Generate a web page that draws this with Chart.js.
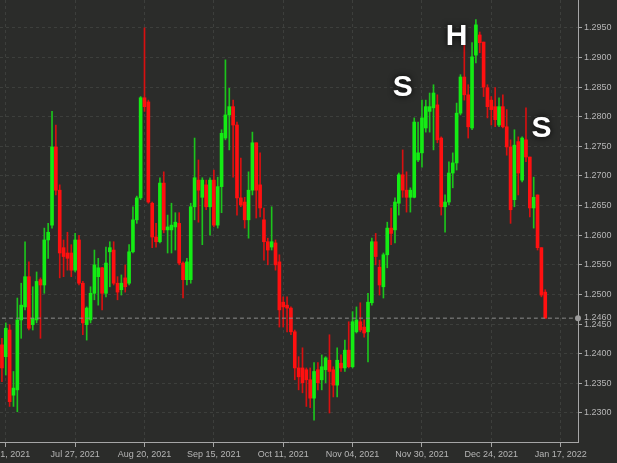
<!DOCTYPE html>
<html>
<head>
<meta charset="utf-8">
<script src="https://cdn.jsdelivr.net/npm/chart.js@4.4.1/dist/chart.umd.min.js"></script>
<style>
  html, body { margin: 0; padding: 0; background: #2b2c2a; }
  #wrap { width: 617px; height: 463px; position: relative; }
</style>
</head>
<body>
<div id="wrap"><canvas id="chart"></canvas></div>
<script>
// GBP/USD daily, Jun 30 2021 - Jan 13 2022
const opens = [
  1.2415, 1.2395, 1.2440, 1.2330, 1.2339, 1.2457, 1.2479, 1.2530, 1.2449, 1.2457,
  1.2525, 1.2516, 1.2592, 1.2617, 1.2749, 1.2676, 1.2579, 1.2570, 1.2570, 1.2541,
  1.2592, 1.2519, 1.2449, 1.2457, 1.2502, 1.2530, 1.2545, 1.2502, 1.2572, 1.2575,
  1.2519, 1.2508, 1.2528, 1.2519, 1.2572, 1.2626, 1.2663, 1.2832, 1.2825, 1.2654,
  1.2597, 1.2589, 1.2688, 1.2609, 1.2609, 1.2614, 1.2620, 1.2553, 1.2525, 1.2525,
  1.2648, 1.2693, 1.2664, 1.2685, 1.2648, 1.2693, 1.2617, 1.2682, 1.2764, 1.2803,
  1.2817, 1.2786, 1.2663, 1.2656, 1.2626, 1.2676, 1.2756, 1.2685, 1.2626, 1.2589,
  1.2580, 1.2587, 1.2555, 1.2487, 1.2482, 1.2477, 1.2437, 1.2376, 1.2376, 1.2373,
  1.2356, 1.2325, 1.2373, 1.2356, 1.2373, 1.2389, 1.2373, 1.2347, 1.2384, 1.2376,
  1.2406, 1.2378, 1.2437, 1.2454, 1.2445, 1.2437, 1.2486, 1.2589, 1.2546, 1.2513,
  1.2567, 1.2612, 1.2609, 1.2654, 1.2702, 1.2676, 1.2664, 1.2664, 1.2727, 1.2739,
  1.2781, 1.2809, 1.2815, 1.2820, 1.2764, 1.2648, 1.2656, 1.2705, 1.2722, 1.2806,
  1.2867, 1.2837, 1.2781, 1.2904, 1.2938, 1.2926, 1.2849, 1.2828, 1.2817, 1.2786,
  1.2817, 1.2783, 1.2749, 1.2660, 1.2758, 1.2693, 1.2761, 1.2732, 1.2646, 1.2668,
  1.2579, 1.2504
];
const highs = [
  1.2426, 1.2452, 1.2449, 1.2370, 1.2494, 1.2519, 1.2589, 1.2555, 1.2513, 1.2538,
  1.2528, 1.2612, 1.2620, 1.2809, 1.2786, 1.2685, 1.2592, 1.2605, 1.2584, 1.2603,
  1.2600, 1.2522, 1.2479, 1.2513, 1.2575, 1.2561, 1.2546, 1.2580, 1.2589, 1.2589,
  1.2530, 1.2533, 1.2550, 1.2584, 1.2648, 1.2666, 1.2834, 1.2950, 1.2828, 1.2656,
  1.2620, 1.2697, 1.2707, 1.2634, 1.2654, 1.2638, 1.2638, 1.2555, 1.2561, 1.2654,
  1.2764, 1.2727, 1.2697, 1.2693, 1.2697, 1.2710, 1.2698, 1.2778, 1.2896, 1.2848,
  1.2828, 1.2791, 1.2730, 1.2664, 1.2707, 1.2774, 1.2756, 1.2739, 1.2646, 1.2595,
  1.2648, 1.2592, 1.2567, 1.2496, 1.2496, 1.2479, 1.2440, 1.2395, 1.2410, 1.2376,
  1.2376, 1.2385, 1.2385, 1.2398, 1.2395, 1.2432, 1.2378, 1.2410, 1.2398, 1.2423,
  1.2454, 1.2471, 1.2479, 1.2486, 1.2457, 1.2502, 1.2595, 1.2603, 1.2558, 1.2570,
  1.2622, 1.2646, 1.2663, 1.2705, 1.2744, 1.2707, 1.2680, 1.2798, 1.2791, 1.2828,
  1.2828, 1.2840, 1.2854, 1.2837, 1.2766, 1.2668, 1.2724, 1.2739, 1.2823, 1.2871,
  1.2921, 1.2854, 1.2925, 1.2964, 1.2943, 1.2926, 1.2854, 1.2834, 1.2849, 1.2832,
  1.2837, 1.2812, 1.2761, 1.2778, 1.2766, 1.2766, 1.2815, 1.2732, 1.2698, 1.2668,
  1.2579, 1.2508
];
const lows = [
  1.2353, 1.2364, 1.2311, 1.2311, 1.2302, 1.2426, 1.2474, 1.2440, 1.2440, 1.2452,
  1.2426, 1.2502, 1.2561, 1.2612, 1.2668, 1.2528, 1.2530, 1.2541, 1.2530, 1.2538,
  1.2516, 1.2432, 1.2423, 1.2452, 1.2491, 1.2482, 1.2474, 1.2496, 1.2513, 1.2516,
  1.2491, 1.2499, 1.2504, 1.2516, 1.2570, 1.2620, 1.2660, 1.2809, 1.2654, 1.2579,
  1.2580, 1.2587, 1.2604, 1.2570, 1.2570, 1.2575, 1.2550, 1.2494, 1.2516, 1.2519,
  1.2626, 1.2622, 1.2584, 1.2643, 1.2600, 1.2614, 1.2612, 1.2638, 1.2761, 1.2744,
  1.2698, 1.2634, 1.2648, 1.2612, 1.2595, 1.2668, 1.2629, 1.2631, 1.2558, 1.2550,
  1.2575, 1.2541, 1.2445, 1.2445, 1.2437, 1.2432, 1.2356, 1.2339, 1.2334, 1.2311,
  1.2309, 1.2288, 1.2339, 1.2339, 1.2351, 1.2300, 1.2327, 1.2327, 1.2370, 1.2370,
  1.2376, 1.2376, 1.2435, 1.2437, 1.2428, 1.2386, 1.2482, 1.2550, 1.2499, 1.2494,
  1.2545, 1.2584, 1.2587, 1.2634, 1.2664, 1.2639, 1.2639, 1.2663, 1.2724, 1.2715,
  1.2774, 1.2774, 1.2744, 1.2756, 1.2634, 1.2605, 1.2651, 1.2680, 1.2710, 1.2803,
  1.2828, 1.2764, 1.2778, 1.2891, 1.2908, 1.2834, 1.2798, 1.2786, 1.2783, 1.2783,
  1.2781, 1.2735, 1.2620, 1.2648, 1.2668, 1.2690, 1.2724, 1.2631, 1.2612, 1.2575,
  1.2496, 1.2460
];
const closes = [
  1.2376, 1.2443, 1.2319, 1.2342, 1.2457, 1.2482, 1.2530, 1.2443, 1.2460, 1.2522,
  1.2516, 1.2592, 1.2605, 1.2749, 1.2676, 1.2570, 1.2564, 1.2561, 1.2541, 1.2592,
  1.2519, 1.2452, 1.2477, 1.2502, 1.2550, 1.2545, 1.2502, 1.2553, 1.2579, 1.2519,
  1.2504, 1.2519, 1.2513, 1.2572, 1.2626, 1.2663, 1.2832, 1.2817, 1.2656, 1.2597,
  1.2589, 1.2688, 1.2609, 1.2614, 1.2617, 1.2622, 1.2553, 1.2525, 1.2555, 1.2648,
  1.2697, 1.2676, 1.2693, 1.2648, 1.2693, 1.2617, 1.2682, 1.2772, 1.2803, 1.2817,
  1.2786, 1.2663, 1.2651, 1.2626, 1.2676, 1.2756, 1.2676, 1.2646, 1.2589, 1.2575,
  1.2589, 1.2550, 1.2474, 1.2479, 1.2477, 1.2437, 1.2376, 1.2361, 1.2351, 1.2356,
  1.2325, 1.2370, 1.2351, 1.2378, 1.2393, 1.2370, 1.2347, 1.2389, 1.2376, 1.2406,
  1.2378, 1.2454, 1.2457, 1.2440, 1.2435, 1.2487, 1.2589, 1.2564, 1.2516, 1.2567,
  1.2612, 1.2603, 1.2656, 1.2702, 1.2676, 1.2664, 1.2676, 1.2791, 1.2739, 1.2798,
  1.2817, 1.2817, 1.2840, 1.2761, 1.2648, 1.2656, 1.2705, 1.2722, 1.2806, 1.2867,
  1.2837, 1.2783, 1.2901, 1.2955, 1.2925, 1.2850, 1.2817, 1.2812, 1.2795, 1.2817,
  1.2783, 1.2749, 1.2643, 1.2752, 1.2705, 1.2764, 1.2732, 1.2646, 1.2664, 1.2579,
  1.2499, 1.2460
];

// dates shown under the x axis
const tickDates = ['Jul 01, 2021', 'Jul 27, 2021', 'Aug 20, 2021', 'Sep 15, 2021', 'Oct 11, 2021',
                   'Nov 04, 2021', 'Nov 30, 2021', 'Dec 24, 2021', 'Jan 17, 2022'];

// head & shoulders markers: letter, candle index, price
const annText = ['S', 'H', 'S'];
const annAt = [104, 118, 140];
const annPrice = [1.2849, 1.2935, 1.2779];

const UP = '#14ec14', DOWN = '#ff1010';
const UP_WICK = '#1cc41c', DOWN_WICK = '#d81010';
const GRID = '#3d3f3c', AXIS = '#a6a6a6', TEXT = '#b6b6b6';
const FONT = 'Liberation Sans';

const MONTHS = ['Jan', 'Feb', 'Mar', 'Apr', 'May', 'Jun', 'Jul', 'Aug', 'Sep', 'Oct', 'Nov', 'Dec'];
function fmt(d) {
    return MONTHS[d.getUTCMonth()] + ' ' + String(d.getUTCDate()).padStart(2, '0') + ', ' + d.getUTCFullYear();
}

// one category per trading day, then empty calendar slots to the right edge
const labels = [];
const d = new Date(Date.UTC(2021, 5, 30));
while (labels.length < opens.length) {
    const wd = d.getUTCDay();
    if (wd !== 0 && wd !== 6) labels.push(fmt(d));
    d.setUTCDate(d.getUTCDate() + 1);
}
while (labels.length < 150) {
    labels.push(fmt(d));
    d.setUTCDate(d.getUTCDate() + 1);
}

const lastPrice = closes[closes.length - 1];
const up = closes.map((c, i) => c >= opens[i]);

// draws the last price marker and the H&S letters
const overlay = {
    id: 'overlay',
    afterDraw(chart) {
        const { ctx, chartArea, scales: { x, y } } = chart;
        const yp = y.getPixelForValue(lastPrice);
        ctx.save();
        ctx.fillStyle = '#9c9c9c';
        ctx.beginPath();
        ctx.arc(chartArea.right, yp, 3, 0, Math.PI * 2);
        ctx.fill();
        ctx.font = '9px "' + FONT + '"';
        ctx.fillStyle = TEXT;
        ctx.textAlign = 'left';
        ctx.textBaseline = 'middle';
        ctx.fillText(lastPrice.toFixed(4), chartArea.right + 6, yp - 1);

        ctx.font = 'bold 30px "' + FONT + '"';
        ctx.textAlign = 'center';
        ctx.fillStyle = '#ffffff';
        ctx.shadowColor = 'rgba(0,0,0,0.9)';
        ctx.shadowBlur = 6;
        annText.forEach((t, i) => {
            ctx.fillText(t, x.getPixelForValue(annAt[i]), y.getPixelForValue(annPrice[i]));
        });
        ctx.restore();
    }
};

const hasLabel = c => (c.tick && c.tick.label) ? GRID : 'rgba(0,0,0,0)';
const hasLabelTick = c => (c.tick && c.tick.label) ? AXIS : 'rgba(0,0,0,0)';

new Chart(document.getElementById('chart'), {
    type: 'bar',
    data: {
        labels: labels,
        datasets: [
            {
                type: 'line',
                data: labels.map(() => lastPrice),
                borderColor: '#8e8e8e',
                borderWidth: 1,
                borderDash: [4, 3],
                pointRadius: 0,
                order: 0
            },
            {
                data: opens.map((o, i) => [o, closes[i]]),
                backgroundColor: up.map(u => u ? UP : DOWN),
                borderWidth: 0,
                barThickness: 3,
                minBarLength: 1,
                grouped: false,
                order: 1
            },
            {
                data: lows.map((l, i) => [l, highs[i]]),
                backgroundColor: up.map(u => u ? UP_WICK : DOWN_WICK),
                borderWidth: 0,
                barThickness: 1,
                grouped: false,
                order: 2
            }
        ]
    },
    options: {
        responsive: true,
        maintainAspectRatio: false,
        animation: false,
        layout: { padding: 0 },
        plugins: {
            legend: { display: false },
            tooltip: { enabled: false }
        },
        scales: {
            x: {
                offset: true,
                grid: { offset: false, color: hasLabel, tickColor: hasLabelTick, tickLength: 5 },
                border: { color: AXIS, width: 1, dash: [3, 3] },
                ticks: {
                    autoSkip: false,
                    maxRotation: 0,
                    minRotation: 0,
                    padding: 2,
                    color: TEXT,
                    font: { family: FONT, size: 9 },
                    callback: function (v) {
                        const l = this.getLabelForValue(v);
                        return tickDates.includes(l) ? l : null;
                    }
                },
                afterFit(s) {
                    s.height = 21;
                    s.paddingLeft = 0;
                    s.paddingRight = 0;
                }
            },
            y: {
                position: 'right',
                min: 1.2251,
                max: 1.2997,
                beginAtZero: false,
                grid: { color: hasLabel, tickColor: hasLabelTick, tickLength: 4 },
                border: { color: AXIS, width: 1, dash: [3, 3] },
                ticks: {
                    stepSize: 0.005,
                    padding: 2,
                    color: TEXT,
                    font: { family: FONT, size: 9 },
                    callback: v => Math.abs(v * 200 - Math.round(v * 200)) < 1e-6 ? v.toFixed(4) : null
                },
                afterFit(s) {
                    s.width = 39;
                    s.paddingTop = 0;
                    s.paddingBottom = 0;
                }
            }
        }
    },
    plugins: [overlay]
});
</script>
</body>
</html>
